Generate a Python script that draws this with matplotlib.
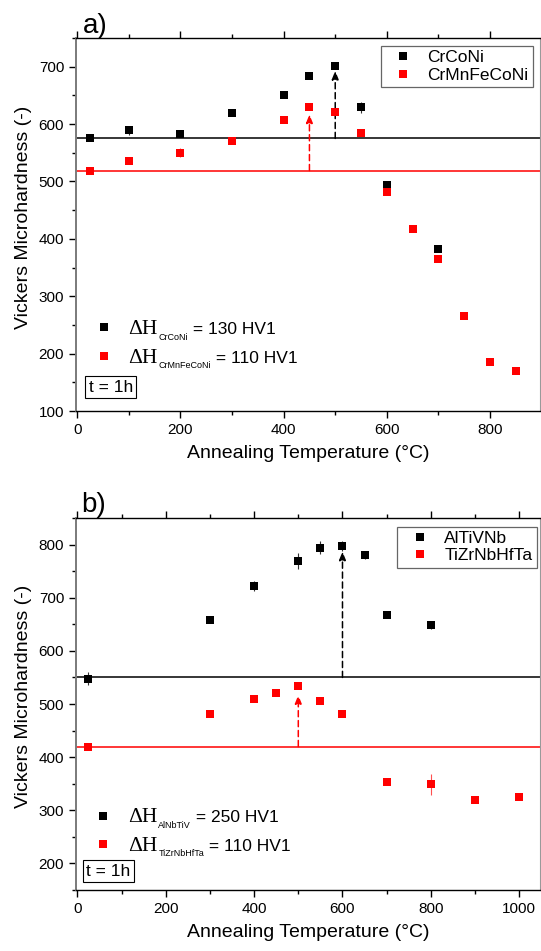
import matplotlib
matplotlib.use("Agg")
import matplotlib.pyplot as plt
from matplotlib.lines import Line2D
from matplotlib.ticker import MultipleLocator

plt.rcParams["font.family"] = ["Liberation Sans", "DejaVu Sans"]
SERIF = ["Liberation Serif", "DejaVu Serif"]

# --- a) CrCoNi / CrMnFeCoNi
temp_crconi = [25, 100, 200, 300, 400, 450, 500, 550, 600, 700]
hv_crconi = [575, 589, 582, 619, 651, 684, 701, 629, 494, 383]
err_crconi = [4, 8, 5, 4, 4, 4, 4, 9, 5, 4]

temp_cantor = [25, 100, 200, 300, 400, 450, 500, 550, 600, 650, 700, 750, 800, 850]
hv_cantor = [519, 535, 550, 571, 608, 630, 621, 584, 482, 418, 365, 265, 185, 169]
err_cantor = [3, 3, 8, 4, 3, 4, 4, 3, 4, 3, 4, 3, 3, 3]

# --- b) AlTiVNb / TiZrNbHfTa
temp_altivnb = [25, 300, 400, 500, 550, 600, 650, 700, 800]
hv_altivnb = [548, 658, 722, 769, 794, 797, 780, 668, 649]
err_altivnb = [12, 4, 10, 15, 12, 10, 8, 4, 8]

temp_tizr = [25, 300, 400, 450, 500, 550, 600, 700, 800, 900, 1000]
hv_tizr = [420, 481, 510, 520, 534, 506, 481, 354, 349, 320, 326]
err_tizr = [3, 3, 3, 3, 3, 3, 3, 3, 20, 3, 3]

# as-cast reference level, hardness increase and temperature of the peak
base_a = [575, 519]
delta_a = [130, 110]
peak_t_a = [500, 450]
base_b = [550, 420]
delta_b = [250, 110]
peak_t_b = [600, 500]

names_a = ["CrCoNi", "CrMnFeCoNi"]
names_b = ["AlTiVNb", "TiZrNbHfTa"]
subs_b = ["AlNbTiV", "TiZrNbHfTa"]
colors = ["#000000", "#ff0000"]
err_colors = ["#333333", "#ff5050"]


def draw_panel(ax, data, names, subs, bases, deltas, peaks, xlim, ylim,
               leg_anchor, dh_rows, tbox):
    for (t, hv, err), c, ec in zip(data, colors, err_colors):
        ax.errorbar(t, hv, yerr=err, fmt="s", ms=5.8, mfc=c, mec=c, mew=0,
                    ecolor=ec, elinewidth=0.8, capsize=2.2, capthick=0.8,
                    zorder=3)
    for b, d, p, c in zip(bases, deltas, peaks, colors):
        ax.axhline(b, color=c, lw=1.1, zorder=2)
        ax.annotate("", xy=(p, b + d), xytext=(p, b),
                    arrowprops=dict(arrowstyle="-|>,head_length=0.5,head_width=0.2",
                                    color=c, lw=1.1, linestyle=(0, (4, 2.5)),
                                    shrinkA=0, shrinkB=5),
                    zorder=2)

    ax.set_xlim(*xlim)
    ax.set_ylim(*ylim)
    ax.xaxis.set_major_locator(MultipleLocator(200))
    ax.xaxis.set_minor_locator(MultipleLocator(100))
    ax.yaxis.set_major_locator(MultipleLocator(100))
    ax.yaxis.set_minor_locator(MultipleLocator(50))
    ax.tick_params(which="both", direction="out", top=True, right=False,
                   labelsize=11, width=1, pad=3.5)
    ax.tick_params(which="major", length=5)
    ax.tick_params(which="minor", length=3)
    ax.spines["left"].set_color("#7a7a7a")
    ax.spines["left"].set_linewidth(1.4)
    ax.spines["right"].set_color("#9a9a9a")
    ax.spines["right"].set_linewidth(0.8)
    for s in ("top", "bottom"):
        ax.spines[s].set_linewidth(1.0)

    ax.set_xlabel("Annealing Temperature (°C)", fontsize=14, labelpad=6)
    ax.set_ylabel("Vickers Microhardness (-)", fontsize=14)
    ax.yaxis.set_label_coords(-0.095, 0.52)

    handles = [Line2D([], [], ls="none", marker="s", ms=5.8, mfc=c, mec=c, mew=0)
               for c in colors]
    leg = ax.legend(handles, names, loc="upper right", bbox_to_anchor=leg_anchor,
                    borderaxespad=0, fontsize=12.5, frameon=True, fancybox=False,
                    edgecolor="#404040", handlelength=2.1, handletextpad=0.35,
                    borderpad=0.25, labelspacing=0.12)
    leg.get_frame().set_linewidth(0.9)

    # hardness increase labels, lower left
    for (mx, my, ty), sub, d, c in zip(dh_rows, subs, deltas, colors):
        ax.plot([mx], [my], "s", ms=5.8, mfc=c, mec=c, mew=0,
                transform=ax.transAxes, clip_on=False)
        t1 = ax.text(0.113, ty, "ΔH", transform=ax.transAxes, family=SERIF,
                     fontsize=15.5, va="baseline")
        t2 = ax.annotate(sub, xy=(1, ty), xycoords=(t1, ax.transAxes),
                         xytext=(0.5, -4), textcoords="offset points",
                         fontsize=6.5, va="baseline")
        ax.annotate(f" = {d} HV1", xy=(1, ty), xycoords=(t2, ax.transAxes),
                    fontsize=12.5, va="baseline")

    ax.text(tbox[0], tbox[1], "t = 1h", transform=ax.transAxes, ha="center",
            va="center", fontsize=12.5,
            bbox=dict(boxstyle="square,pad=0.2", fc="white", ec="black", lw=0.8))


fig = plt.figure(figsize=(5.41, 9.51), dpi=100)
ax_a = fig.add_axes([0.1405, 0.5678, 0.8577, 0.3922])
ax_b = fig.add_axes([0.1405, 0.0641, 0.8577, 0.3912])

draw_panel(ax_a,
           [(temp_crconi, hv_crconi, err_crconi), (temp_cantor, hv_cantor, err_cantor)],
           names_a, names_a, base_a, delta_a, peak_t_a,
           xlim=(-2.5, 897), ylim=(100, 750), leg_anchor=(0.985, 0.979),
           dh_rows=[(0.060, 0.226, 0.206), (0.060, 0.148, 0.129)],
           tbox=(0.075, 0.064))

draw_panel(ax_b,
           [(temp_altivnb, hv_altivnb, err_altivnb), (temp_tizr, hv_tizr, err_tizr)],
           names_b, subs_b, base_b, delta_b, peak_t_b,
           xlim=(-3, 1047), ylim=(150, 850), leg_anchor=(0.993, 0.977),
           dh_rows=[(0.058, 0.200, 0.182), (0.058, 0.123, 0.106)],
           tbox=(0.070, 0.051))

fig.text(0.153, 0.9648, "a)", fontsize=20, va="baseline")
fig.text(0.151, 0.462, "b)", fontsize=20, va="baseline")

fig.savefig("out.png", dpi=100)
